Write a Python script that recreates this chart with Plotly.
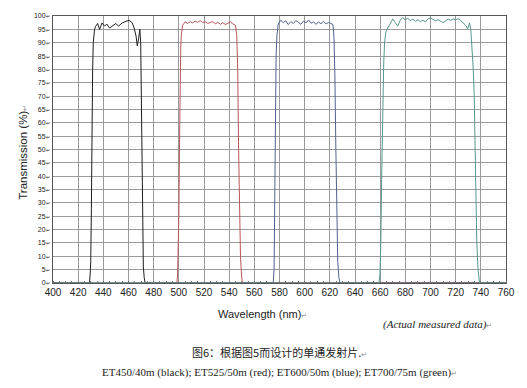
import plotly.graph_objects as go

# ---------------- data ----------------
x_ticks = [400, 420, 440, 460, 480, 500, 520, 540, 560, 580, 600, 620, 640, 660, 680, 700, 720, 740, 760]
y_ticks = list(range(0, 101, 5))

black_wl = [400, 429, 429.5, 430, 430.5, 431, 431.5, 432, 433, 434, 435.5, 437, 439, 441, 442.7,
            445, 447.5, 450, 452, 455, 458, 460.5, 463, 464.5, 466, 467, 468, 469, 469.7, 470.2,
            470.7, 471.2, 471.8, 472.5, 473.2, 760]
black_t = [0, 0, 3, 8, 28, 65, 80, 90, 95, 96.2, 97.2, 95, 97.4, 96.2, 97,
           95.5, 96.4, 97.2, 96.2, 97.4, 98, 98.4, 97.4, 95.5, 92.5, 88.8, 91.5, 95, 90, 70,
           48, 20, 6, 2, 0, 0]

red_wl = [400, 498.5, 499, 499.5, 500, 500.5, 501, 501.5, 502, 503, 505, 507, 509, 511, 513, 515,
          517, 519, 521, 523, 525, 527, 529, 531, 533, 535, 537, 539, 541, 543, 545, 546, 546.8,
          547.5, 548.2, 549, 549.8, 550.5, 760]
red_t = [0, 0, 3, 10, 25, 50, 78, 88, 93, 96.5, 97.8, 97.2, 97.9, 97.4, 98.1, 97.6,
         98.3, 97.5, 97.9, 97.2, 97.6, 97.9, 97.1, 97.6, 96.9, 97.5, 96.8, 97.3, 97.8, 97.0, 96.5, 93, 80,
         50, 25, 10, 3, 0, 0]

blue_wl = [400, 575, 575.7, 576.3, 576.8, 577.3, 578, 579, 581, 583, 585, 587, 589, 591, 593, 595,
           597, 599, 601, 603, 605, 607, 609, 611, 613, 615, 617, 619, 621, 622.5, 623.3, 624,
           624.8, 625.5, 626.3, 627.2, 628, 760]
blue_t = [0, 0, 5, 25, 60, 85, 93, 97, 98.4, 97.5, 98.2, 96.8, 97.9, 97.2, 98.3, 97.6,
          96.9, 98.1, 97.4, 98.5, 97.3, 97.8, 96.9, 97.7, 97.1, 98.0, 97.0, 97.6, 97.2, 96.8, 92, 78,
          50, 25, 8, 2, 0, 0]

green_wl = [400, 659, 659.8, 660.5, 661.2, 662, 662.8, 663.5, 664.5, 666, 668, 670, 672, 674, 676,
            678, 680, 682, 684, 686, 688, 690, 692, 694, 696, 698, 700, 702, 704, 706, 708, 710,
            712, 714, 716, 718, 720, 722, 724, 726, 728, 729.6, 731, 732, 733, 734, 734.7, 735.3,
            736, 736.8, 737.8, 739, 760]
green_t = [0, 0, 3, 15, 40, 65, 82, 90, 94, 95.5, 97, 98.9, 97.5, 96.2, 98.5,
           99.4, 98.6, 99.1, 98.3, 98.8, 98.0, 98.6, 97.9, 98.4, 97.8, 98.9, 99.3, 98.7, 98.2, 98.6, 97.9, 97.5,
           98.2, 98.8, 98.4, 98.9, 98.6, 99.0, 98.3, 97.5, 96.5, 95.2, 97.4, 95, 89, 80, 71, 50,
           33, 15, 5, 0, 0]

series = [
    ("ET450/40m", black_wl, black_t, "#1e1e1e"),
    ("ET525/50m", red_wl, red_t, "#bc5656"),
    ("ET600/50m", blue_wl, blue_t, "#52628e"),
    ("ET700/75m", green_wl, green_t, "#55988c"),
]

x_title = "Wavelength (nm)"
y_title = "Transmission (%)"
note_text = "(Actual measured data)"
caption_cn = "图6：根据图5而设计的单通发射片."
caption_en = "ET450/40m (black); ET525/50m (red); ET600/50m (blue); ET700/75m (green)"

# ---------------- figure ----------------
fig = go.Figure()
for name, wl, t, col in series:
    fig.add_trace(go.Scatter(x=wl, y=t, mode="lines", name=name,
                             line=dict(color=col, width=1), hoverinfo="skip"))

arrow = "<span style='font-size:7px;color:#888'>↵</span>"
arrow_s = "<span style='font-size:5px'>↵</span>"

fig.update_layout(
    width=527, height=388,
    margin=dict(l=53, r=16, t=13, b=105),
    paper_bgcolor="white", plot_bgcolor="white",
    showlegend=False,
    font=dict(family="Liberation Sans, Arial, sans-serif", color="#222"),
)
fig.update_xaxes(
    range=[400, 760], tickvals=x_ticks, ticktext=[str(v) for v in x_ticks],
    tickfont=dict(size=10, color="#222"),
    showgrid=True, gridcolor="#9a9a9a", gridwidth=1,
    showline=True, linecolor="#555", linewidth=1, mirror=True,
    ticks="", zeroline=False,
    minor=dict(dtick=5, ticks="inside", ticklen=2, tickcolor="#777", showgrid=False),
)
fig.update_yaxes(
    range=[0, 100], tickvals=y_ticks,
    ticktext=[f"{v}{arrow_s}" for v in y_ticks],
    tickfont=dict(size=7, color="#222"),
    showgrid=True, gridcolor="#9a9a9a", gridwidth=1,
    showline=True, linecolor="#555", linewidth=1, mirror=True,
    ticks="", zeroline=False, ticklabelstandoff=1,
)

def px_x(px):
    return (px - 53) / 458.0

def px_y(py):
    return (283 - py) / 270.0

fig.add_annotation(text=x_title + arrow, x=px_x(265), y=px_y(314), xref="paper", yref="paper",
                   showarrow=False, xanchor="center", yanchor="middle",
                   font=dict(size=11, family="Liberation Sans, Arial, sans-serif", color="#222"))
fig.add_annotation(text=y_title + arrow, x=px_x(23), y=px_y(151), xref="paper", yref="paper",
                   showarrow=False, xanchor="center", yanchor="middle", textangle=-90,
                   font=dict(size=11.5, family="Liberation Sans, Arial, sans-serif", color="#222"))
fig.add_annotation(text="<i>" + note_text + "</i>" + arrow, x=px_x(442), y=px_y(325),
                   xref="paper", yref="paper", showarrow=False, xanchor="center", yanchor="middle",
                   font=dict(size=11, family="Liberation Serif, Times New Roman, serif", color="#222"))
fig.add_annotation(text=caption_cn + arrow, x=px_x(282), y=px_y(353), xref="paper", yref="paper",
                   showarrow=False, xanchor="center", yanchor="middle",
                   font=dict(size=11, family="Noto Sans CJK SC, sans-serif", color="#222"))
fig.add_annotation(text=caption_en + arrow, x=px_x(282), y=px_y(373), xref="paper", yref="paper",
                   showarrow=False, xanchor="center", yanchor="middle",
                   font=dict(size=11, family="Liberation Serif, Times New Roman, serif", color="#222"))

fig.write_html("out.html", config={"displayModeBar": False},
               post_script="document.body.style.margin='0';document.body.style.overflow='hidden';")
